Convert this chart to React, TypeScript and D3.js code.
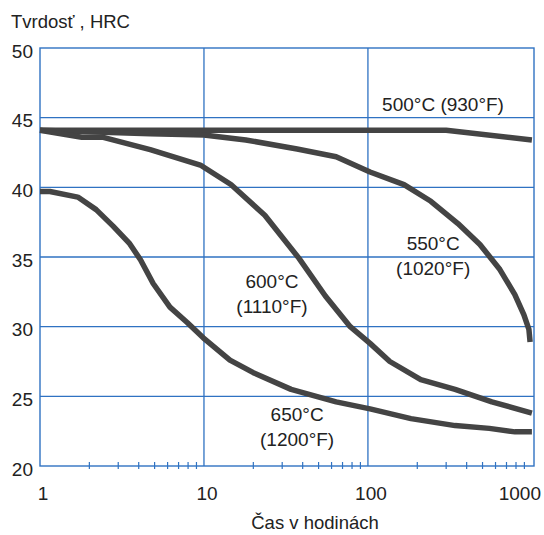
import React from 'react';
import * as d3 from 'd3';

const W = 544;
const H = 535;

// hours (log scale) and hardness HRC
const hours500 = [1, 300, 1000];
const hrc500 = [44.1, 44.1, 43.4];

const hours550 = [1, 4.7, 10, 18, 37, 64, 103, 166, 242, 354, 482, 638, 787, 894, 959, 975];
const hrc550 = [44.1, 43.85, 43.75, 43.4, 42.75, 42.2, 41.1, 40.2, 39.0, 37.4, 35.9, 34.1, 32.3, 30.85, 29.8, 28.9];

const hours600 = [1, 1.8, 2.4, 4.7, 9.5, 14.6, 23.5, 38, 55, 78, 103, 136, 210, 340, 570, 1000];
const hrc600 = [44.1, 43.6, 43.6, 42.7, 41.6, 40.2, 38.0, 34.9, 32.2, 30.0, 28.8, 27.5, 26.2, 25.5, 24.6, 23.8];

const hours650 = [1, 1.15, 1.7, 2.2, 2.8, 3.5, 4.1, 4.9, 6.2, 7.9, 9.9, 14.4, 20, 34, 64, 103, 183, 340, 550, 790, 1000];
const hrc650 = [39.7, 39.7, 39.3, 38.4, 37.2, 36.0, 34.8, 33.1, 31.4, 30.3, 29.2, 27.6, 26.7, 25.5, 24.6, 24.1, 23.4, 22.9, 22.7, 22.45, 22.45];

const yTicks = [20, 25, 30, 35, 40, 45, 50];
const xTicks = [1, 10, 100, 1000];
const minorTicks = [2, 3, 4, 5, 6, 7, 8, 9, 20, 30, 40, 50, 60, 70, 80, 90, 200, 300, 400, 500, 600, 700, 800, 900];

const curveLabels = [
  { lines: ['500°C (930°F)'], x: 122, y: 45.5, anchor: 'start' },
  { lines: ['550°C', '(1020°F)'], x: 250, y: 35.5, anchor: 'middle' },
  { lines: ['600°C', '(1110°F)'], x: 26, y: 32.8, anchor: 'middle' },
  { lines: ['650°C', '(1200°F)'], x: 37, y: 23.2, anchor: 'middle' },
];

const FONT = '"Liberation Sans", Arial, Helvetica, sans-serif';
const BLUE = '#2f72c2';
const INK = '#444444';

export default function App() {
  const left = 40, right = 534, top = 48, bottom = 466;

  const x = d3.scaleLog().domain([1, 1030]).range([left, right]);
  const y = d3.scaleLinear().domain([20, 50]).range([bottom, top]);

  const line = d3.line<[number, number]>()
    .x(d => x(d[0]))
    .y(d => y(d[1]));

  const series = [
    d3.zip(hours500, hrc500),
    d3.zip(hours550, hrc550),
    d3.zip(hours600, hrc600),
    d3.zip(hours650, hrc650),
  ] as [number, number][][];

  return (
    <svg width={W} height={H} style={{ position: 'absolute', left: 0, top: 0, background: '#fff' }}
      fontFamily={FONT}>
      <rect x={0} y={0} width={W} height={H} fill="#fff" />

      <text x={11} y={28} fontSize={18.5} fill="#222">Tvrdosť , HRC</text>

      {/* grid */}
      {yTicks.slice(1, -1).map(t => (
        <line key={'h' + t} x1={left} x2={right} y1={y(t)} y2={y(t)} stroke={BLUE} strokeWidth={1.3} />
      ))}
      {xTicks.slice(1, -1).map(t => (
        <line key={'v' + t} x1={x(t)} x2={x(t)} y1={top} y2={bottom} stroke={BLUE} strokeWidth={1.3} />
      ))}
      {minorTicks.map(t => (
        <line key={'m' + t} x1={x(t)} x2={x(t)} y1={bottom - 4} y2={bottom + 3} stroke={BLUE} strokeWidth={1.2} />
      ))}
      <rect x={left} y={top} width={right - left} height={bottom - top} fill="none" stroke={BLUE} strokeWidth={1.4} />

      {/* curves */}
      {series.map((s, i) => (
        <path key={i} d={line(s) || ''}
          fill="none" stroke={INK} strokeWidth={5.5} strokeLinejoin="round" />
      ))}

      {/* y tick labels */}
      {yTicks.map(t => (
        <text key={'yl' + t} x={33} y={y(t) + 3} fontSize={19} fill="#222" textAnchor="end"
          dominantBaseline="central">{t}</text>
      ))}

      {/* x tick labels */}
      {xTicks.map((t, i) => (
        <text key={'xl' + t} x={i === xTicks.length - 1 ? 541 : x(t) + 3} y={500} fontSize={19} fill="#222"
          textAnchor={i === xTicks.length - 1 ? 'end' : 'middle'}>{t}</text>
      ))}

      <text x={315} y={529} fontSize={18.5} fill="#222" textAnchor="middle">Čas v hodinách</text>

      {/* curve labels */}
      {curveLabels.map((c, i) => (
        <text key={'c' + i} fontSize={19} fill="#222" textAnchor={c.anchor}>
          {c.lines.map((l, j) => (
            <tspan key={j} x={x(c.x)} y={y(c.y) + j * 25}>{l}</tspan>
          ))}
        </text>
      ))}
    </svg>
  );
}
